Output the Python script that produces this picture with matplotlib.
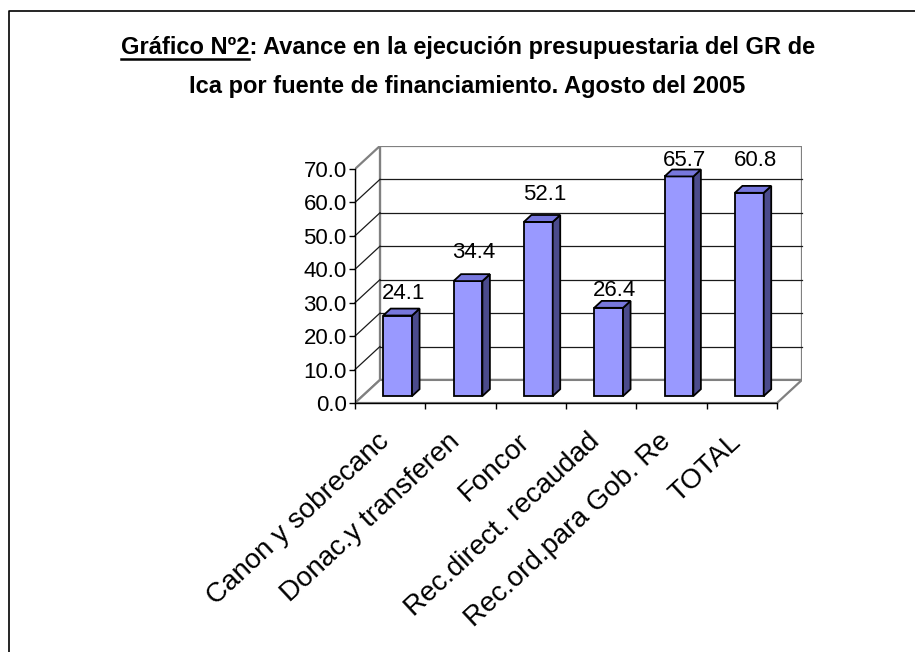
import matplotlib
matplotlib.use("Agg")
import matplotlib.pyplot as plt
from matplotlib.patches import Polygon
from matplotlib.lines import Line2D

# ---------------------------------------------------------------------
# data (Avance %, agosto 2005)
# ---------------------------------------------------------------------
categories = ["Canon y sobrecanc", "Donac.y transferen", "Foncor",
              "Rec.direct. recaudad", "Rec.ord.para Gob. Re", "TOTAL"]
avance = [24.1, 34.4, 52.1, 26.4, 65.7, 60.8]
y_ticks = [0, 10, 20, 30, 40, 50, 60, 70]

# Excel puts the value labels a bit unevenly above each bar (pixels)
label_lift = [17, 23, 22, 12, 10, 27]

plt.rcParams['font.family'] = ['Liberation Sans', 'DejaVu Sans']

W, H = 915, 652
fig = plt.figure(figsize=(W / 100, H / 100), dpi=100)

# pseudo-3D geometry (data units)
n = len(categories)
ymax = y_ticks[-1]
DX, DY = 0.355, 6.9          # depth of the floor
f0, f1 = 0.30, 0.60          # bar depth inside the floor
bw = 0.41                    # bar width
cat_px, unit_px = 70.33, 3.343
x0_px, y0_px = 355, 403

ax = fig.add_axes([x0_px / W, 1 - y0_px / H,
                   (n + DX) * cat_px / W, (ymax + DY) * unit_px / H])
ax.set_xlim(0, n + DX)
ax.set_ylim(0, ymax + DY)
ax.patch.set_visible(False)

grey = "#808080"
wall_lw = 1.6

# back wall, left wall, floor
ax.add_patch(Polygon([(DX, DY), (n + DX, DY), (n + DX, ymax + DY), (DX, ymax + DY)],
                     closed=True, facecolor="white", edgecolor=grey, lw=wall_lw, zorder=0))
ax.add_patch(Polygon([(0, 0), (DX, DY), (DX, ymax + DY), (0, ymax)],
                     closed=True, facecolor="white", edgecolor=grey, lw=wall_lw, zorder=0))
ax.add_patch(Polygon([(0, 0), (n, 0), (n + DX, DY), (DX, DY)],
                     closed=True, facecolor="white", edgecolor=grey, lw=wall_lw, zorder=0))

# gridlines on back wall and left wall
for v in y_ticks[1:-1]:
    ax.plot([DX, n + DX], [v + DY, v + DY], color="#1a1a1a", lw=0.9, zorder=1, clip_on=False)
    ax.plot([0, DX], [v, v + DY], color="#1a1a1a", lw=0.9, zorder=1, clip_on=False)

# bars: front faces through ax.bar, side and top faces as polygons
xs = [i + 0.5 + f0 * DX for i in range(n)]
base = f0 * DY
ddx, ddy = (f1 - f0) * DX, (f1 - f0) * DY
ax.bar(xs, avance, width=bw, bottom=base, color="#9999FF",
       edgecolor="black", lw=1.3, zorder=3)
for x, v in zip(xs, avance):
    xl, xr, top = x - bw / 2, x + bw / 2, base + v
    ax.add_patch(Polygon([(xr, base), (xr + ddx, base + ddy), (xr + ddx, top + ddy), (xr, top)],
                         closed=True, facecolor="#4B4B8C", edgecolor="black", lw=1.3, zorder=3))
    ax.add_patch(Polygon([(xl, top), (xr, top), (xr + ddx, top + ddy), (xl + ddx, top + ddy)],
                         closed=True, facecolor="#7777DD", edgecolor="black", lw=1.3, zorder=3))

for x, v, lift in zip(xs, avance, label_lift):
    ax.annotate(f"{v:.1f}", xy=(x, base + v), xytext=(6, lift), textcoords="offset pixels",
                ha="center", va="baseline", fontsize=16, zorder=5)

# axes (front edges)
for s in ["top", "right"]:
    ax.spines[s].set_visible(False)
ax.spines["left"].set_bounds(0, ymax)
ax.spines["bottom"].set_bounds(0, n)
for s in ["left", "bottom"]:
    ax.spines[s].set_linewidth(1.0)
    ax.spines[s].set_zorder(4)

ax.set_yticks(y_ticks)
ax.set_yticklabels([f"{v:.1f}" for v in y_ticks])
ax.tick_params(axis="y", length=4, width=1.0, pad=2, labelsize=16)

ax.set_xticks(range(n + 1))
ax.set_xticklabels([])
ax.set_xticks([i + 0.5 for i in range(n)], minor=True)
ax.set_xticklabels(categories, minor=True)
ax.tick_params(axis="x", which="major", length=4, width=1.0)
ax.tick_params(axis="x", which="minor", length=0, pad=29, labelsize=20)
plt.setp(ax.get_xticklabels(minor=True), rotation=43, ha="right", va="baseline",
         rotation_mode="anchor")

# title, first part underlined
title1 = "Gráfico Nº2: Avance en la ejecución presupuestaria del GR de"
title2 = "Ica por fuente de financiamiento. Agosto del 2005"
t1 = fig.text(0.511, 1 - 54 / H, title1, ha="center", va="baseline",
              fontsize=17, fontweight="bold")
fig.text(0.511, 1 - 93 / H, title2, ha="center", va="baseline",
         fontsize=17, fontweight="bold")
fig.canvas.draw()
r = fig.canvas.get_renderer()
bb = t1.get_window_extent(r)
tmp = fig.text(0, 0, "Gráfico Nº2", fontsize=17, fontweight="bold")
wpart = tmp.get_window_extent(r).width
tmp.remove()
uy = 1 - 59 / H
fig.add_artist(Line2D([bb.x0 / W, (bb.x0 + wpart) / W], [uy, uy],
                      transform=fig.transFigure, color="black", lw=1.8))

# outer frame (only top and left edges are visible in the crop)
fig.add_artist(Line2D([9 / W, 9 / W, 1.0], [0.0, 1 - 11 / H, 1 - 11 / H],
                      transform=fig.transFigure, color="black", lw=1.2))

fig.savefig("out.png", dpi=100)
